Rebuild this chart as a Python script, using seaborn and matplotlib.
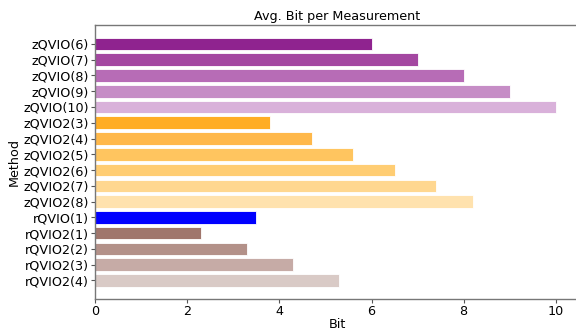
import pandas as pd
import numpy as np
import seaborn as sns
import matplotlib.pyplot as plt

methods = ['zQVIO(6)', 'zQVIO(7)', 'zQVIO(8)', 'zQVIO(9)', 'zQVIO(10)',
           'zQVIO2(3)', 'zQVIO2(4)', 'zQVIO2(5)', 'zQVIO2(6)', 'zQVIO2(7)', 'zQVIO2(8)',
           'rQVIO(1)', 'rQVIO2(1)', 'rQVIO2(2)', 'rQVIO2(3)', 'rQVIO2(4)']
bits = [6, 7, 8, 9, 10,
        3.8, 4.7, 5.6, 6.5, 7.4, 8.2,
        3.5, 2.3, 3.3, 4.3, 5.3]
colors = ['#8f238f', '#a447a1', '#b76cb6', '#c68dc6', '#d9b1da',
          '#ffad24', '#ffb84a', '#ffc55f', '#ffcd73', '#ffd790', '#ffe2ae',
          '#0000ff', '#a0766c', '#b39189', '#c6aba6', '#d9cac6']

df = pd.DataFrame({'Method': methods, 'Bit': bits})

sns.set_style('white')
plt.rcParams['font.family'] = ['DejaVu Sans']
plt.rcParams['text.color'] = 'black'
plt.rcParams['axes.labelcolor'] = 'black'
plt.rcParams['xtick.color'] = 'black'
plt.rcParams['ytick.color'] = 'black'

fs = 9.2

fig = plt.figure(figsize=(5.76, 3.31), dpi=100)
ax = fig.add_axes([0.165, 0.096, 0.84, 0.828])

sns.barplot(data=df, x='Bit', y='Method', hue='Method', palette=colors,
            order=methods, hue_order=methods, legend=False, width=0.8,
            saturation=1, edgecolor='white', linewidth=0.6, ax=ax)

ax.set_xlim(0, 10.5)
ax.set_ylim(16.19, -1.19)
ax.set_xticks([0, 2, 4, 6, 8, 10])
ax.set_title('Avg. Bit per Measurement', fontsize=fs, pad=4)
ax.set_xlabel('Bit', fontsize=fs, labelpad=0)
ax.set_ylabel('Method', fontsize=fs, labelpad=2)
ax.tick_params(axis='both', labelsize=fs, length=3, color='#555555', pad=1.5,
               left=True, bottom=True)
for side in ['left', 'bottom', 'top', 'right']:
    ax.spines[side].set_color('#777777')
    ax.spines[side].set_linewidth(1)

fig.savefig('out.png', dpi=100)
